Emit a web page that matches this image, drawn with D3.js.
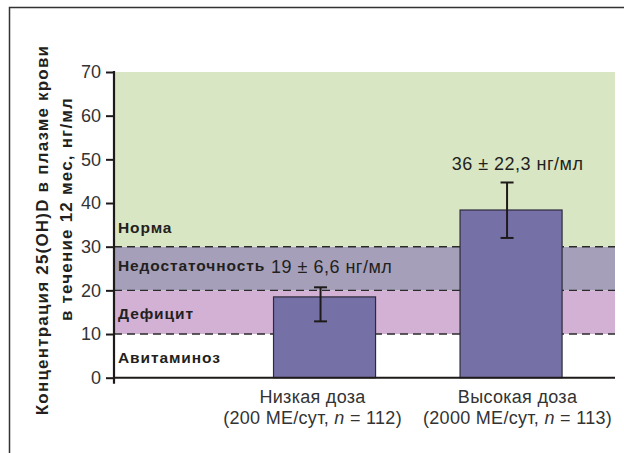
<!DOCTYPE html>
<html>
<head>
<meta charset="utf-8">
<script src="https://cdn.jsdelivr.net/npm/d3@7"></script>
<style>
  html, body { margin: 0; padding: 0; background: #fff; }
  svg { display: block; font-family: "Liberation Sans", Arial, Helvetica, sans-serif; }
</style>
</head>
<body>
<svg id="chart" width="624" height="453"></svg>
<script>
// ---- data ----
const categories = ["Низкая доза", "Высокая доза"];
const categorySub = ["200 МЕ/сут", "2000 МЕ/сут"];
const categoryN = [112, 113];
const barValues = [18.5, 38.4];
const errLow = [12.9, 32.0];
const errHigh = [20.7, 44.7];
const barLabels = ["19 ± 6,6 нг/мл", "36 ± 22,3 нг/мл"];
const bandNames = ["Авитаминоз", "Дефицит", "Недостаточность", "Норма"];
const bandFrom = [0, 10, 20, 30];
const bandTo = [10, 20, 30, 70];
const thresholds = [10, 20, 30];
const yTicks = [0, 10, 20, 30, 40, 50, 60, 70];
const yTitle = ["Концентрация 25(OH)D в плазме крови", "в течение 12 мес, нг/мл"];

// ---- layout ----
const svg = d3.select("#chart");
const pLeft = 114, pRight = 615, pTop = 72, pBottom = 377.7;
const y = d3.scaleLinear().domain([0, 70]).range([pBottom, pTop]);
const x = d3.scaleBand().domain(categories).range([226.4, 608.2]).paddingInner(0.453).paddingOuter(0.25);
const bandColors = ["#ffffff", "#d2b1d4", "#a59fb9", "#d9e6c3"];
const textColor = "#231f20";

// frame
svg.append("rect").attr("x", 9.5).attr("y", 7.5).attr("width", 700).attr("height", 500)
  .attr("fill", "none").attr("stroke", "#333").attr("stroke-width", 1.5);

// bands
svg.append("g").selectAll("rect").data(bandNames).join("rect")
  .attr("x", pLeft).attr("width", pRight - pLeft)
  .attr("y", (d, i) => y(bandTo[i]))
  .attr("height", (d, i) => y(bandFrom[i]) - y(bandTo[i]))
  .attr("fill", (d, i) => bandColors[i]);

// dashed threshold lines
svg.append("g").selectAll("line").data(thresholds).join("line")
  .attr("x1", pLeft).attr("x2", pRight)
  .attr("y1", d => y(d)).attr("y2", d => y(d))
  .attr("stroke", "#2b2b2b").attr("stroke-width", 1.4).attr("stroke-dasharray", "8,5");

// band labels
const bandLabelY = [y(0) - 15, y(10) - 15, y(20) - 19, y(30) - 14];
svg.append("g").selectAll("text").data(bandNames).join("text")
  .attr("x", 118).attr("y", (d, i) => bandLabelY[i])
  .attr("font-size", 15.5).attr("font-weight", "bold").attr("letter-spacing", 0.9).attr("fill", textColor)
  .text(d => d);

// bars
svg.append("g").selectAll("rect").data(categories).join("rect")
  .attr("x", d => x(d) + 0.5).attr("width", x.bandwidth())
  .attr("y", (d, i) => y(barValues[i]))
  .attr("height", (d, i) => y(0) - y(barValues[i]))
  .attr("fill", "#7571a7").attr("stroke", "#2e2a3a").attr("stroke-width", 1.2);

// error bars
const errG = svg.append("g").attr("stroke", "#1e1a1a").attr("stroke-width", 2);
categories.forEach((c, i) => {
  const cx = x(c) + x.bandwidth() / 2 - 3.5;
  errG.append("line").attr("x1", cx).attr("x2", cx).attr("y1", y(errLow[i])).attr("y2", y(errHigh[i]));
  errG.append("line").attr("x1", cx - 6.5).attr("x2", cx + 6.5).attr("y1", y(errLow[i])).attr("y2", y(errLow[i]));
  errG.append("line").attr("x1", cx - 6.5).attr("x2", cx + 6.5).attr("y1", y(errHigh[i])).attr("y2", y(errHigh[i]));
});

// value labels
svg.append("text").attr("x", 271).attr("y", y(20) - 17)
  .attr("font-size", 18).attr("letter-spacing", 0.5).attr("fill", textColor).text(barLabels[0]);
svg.append("text").attr("x", x(categories[1]) + x.bandwidth() / 2 + 7).attr("y", y(errHigh[1]) - 12)
  .attr("text-anchor", "middle").attr("font-size", 18).attr("letter-spacing", 0.5).attr("fill", textColor).text(barLabels[1]);

// y axis
const yAxis = d3.axisLeft(y).tickValues(yTicks).tickSize(8).tickPadding(5).tickFormat(d3.format("d"));
const yg = svg.append("g").attr("transform", `translate(${pLeft},0)`).call(yAxis);
yg.select(".domain").remove();
yg.selectAll(".tick line").attr("stroke", "#1e1a1a").attr("stroke-width", 2);
yg.selectAll(".tick text").attr("font-size", 18).attr("fill", "#333")
  .attr("font-family", "'Liberation Sans', Arial, sans-serif");
svg.append("line").attr("x1", pLeft).attr("x2", pLeft).attr("y1", pTop - 1).attr("y2", pBottom + 6)
  .attr("stroke", "#1e1a1a").attr("stroke-width", 2.2);

// x axis line
svg.append("line").attr("x1", pLeft).attr("x2", pRight).attr("y1", pBottom).attr("y2", pBottom)
  .attr("stroke", "#1e1a1a").attr("stroke-width", 2);

// x labels
const labelShift = [-11.5, 7];
const xl = svg.append("g").attr("font-size", 18).attr("letter-spacing", 0.3).attr("fill", "#333").attr("text-anchor", "middle");
categories.forEach((c, i) => {
  const cx = x(c) + x.bandwidth() / 2 + labelShift[i];
  xl.append("text").attr("x", cx).attr("y", 403).text(c);
  const t = xl.append("text").attr("x", cx).attr("y", 424);
  t.append("tspan").text("(" + categorySub[i] + ", ");
  t.append("tspan").attr("font-style", "italic").text("n");
  t.append("tspan").text(" = " + categoryN[i] + ")");
});

// y title
const yt = svg.append("g").attr("font-size", 17).attr("font-weight", "bold").attr("letter-spacing", 1.2).attr("fill", textColor).attr("text-anchor", "middle");
yt.append("text").attr("transform", "translate(47.5,230) rotate(-90)").text(yTitle[0]);
yt.append("text").attr("transform", "translate(72,209) rotate(-90)").text(yTitle[1]);
</script>
</body>
</html>
